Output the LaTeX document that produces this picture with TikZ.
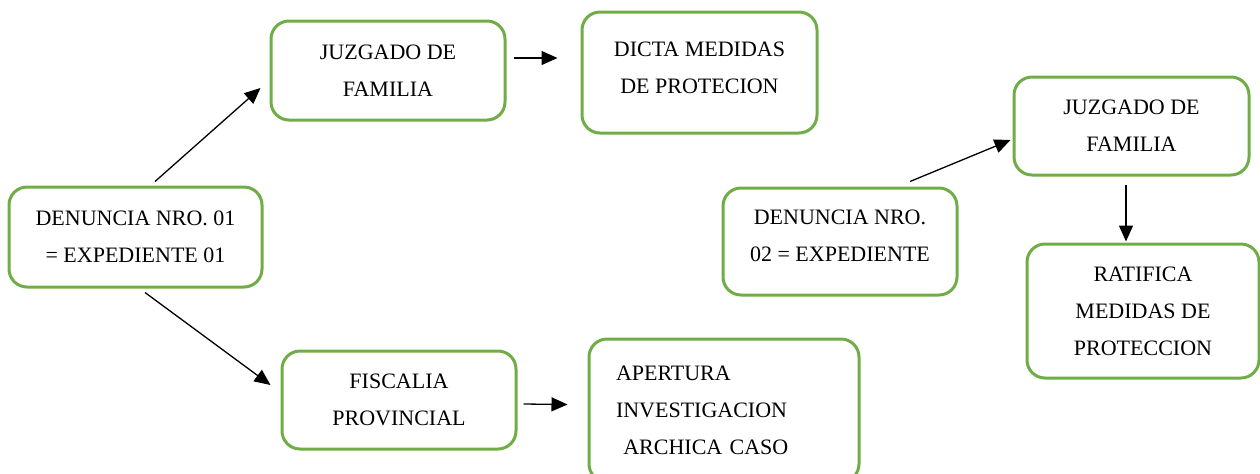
\documentclass[tikz,border=0pt]{standalone}
\usepackage{fontspec}
\setmainfont{Liberation Serif}
\usepackage{tikz}
\usetikzlibrary{arrows.meta}
\usepackage{xcolor}
\definecolor{boxgreen}{HTML}{70AD47}

\tikzset{
	caja/.style={draw=boxgreen, line width=1.5pt, rounded corners=9pt, align=center,
		font=\fontsize{11}{18.5}\selectfont, inner sep=2pt},
	flecha/.style={->, line width=0.65pt}
}

\begin{document}
\begin{tikzpicture}[x=0.5pt, y=-0.5pt, >={Triangle[length=8pt,width=7pt]}]
			\useasboundingbox (0,0) rectangle (1260,473);

			\node[caja, minimum width=126.5pt, minimum height=50pt] (D1) at (135.5, 237) {DENUNCIA NRO. 01\\= EXPEDIENTE 01};
			\node[caja, minimum width=117pt, minimum height=49.5pt] (J1) at (388, 70.5) {JUZGADO DE\\FAMILIA};
			\node[caja, minimum width=117.5pt, minimum height=60.5pt, text depth=5pt] (M1) at (699.5, 72.5) {DICTA MEDIDAS\\DE PROTECION};
			\node[caja, minimum width=117pt, minimum height=49pt] (F1) at (399, 400) {FISCALIA\\PROVINCIAL};
			\node[caja, align=left, text width=108pt, inner xsep=13.5pt, minimum height=71.5pt] (A1) at (724, 410.5) {APERTURA\\INVESTIGACION\\\ ARCHICA CASO};

			% segunda denuncia
			\node[caja, minimum width=117pt, minimum height=53.5pt, text depth=6pt] (D2) at (840, 241.5) {DENUNCIA NRO.\\02 = EXPEDIENTE};
			\node[caja, minimum width=117.5pt, minimum height=49pt] (J2) at (1131.5, 126) {JUZGADO DE\\FAMILIA};
			\node[caja, minimum width=116pt, minimum height=67pt] (R2) at (1143, 311) {RATIFICA\\MEDIDAS DE\\PROTECCION};

			\draw[flecha] ([xshift=9.75pt, yshift=2pt]D1.north) -- ([xshift=-4.5pt, yshift=-8.75pt]J1.west);
			\draw[flecha] ([xshift=3.5pt, yshift=6.25pt]J1.east) -- ([xshift=-11.5pt, yshift=7.25pt]M1.west);
			\draw[flecha] ([xshift=4.75pt, yshift=-2pt]D1.south) -- ([xshift=-5pt, yshift=7.5pt]F1.west);
			\draw[flecha] ([xshift=3pt, yshift=-2pt]F1.east) -- ([xshift=-10pt, yshift=3pt]A1.west);

			\draw[flecha] ([xshift=35pt, yshift=2.5pt]D2.north) -- ([xshift=-1pt, yshift=-7pt]J2.west);
			\draw[flecha] ([xshift=-2.75pt, yshift=-4pt]J2.south) -- ([xshift=-8.5pt, yshift=0.5pt]R2.north);
		\end{tikzpicture}
\end{document}
